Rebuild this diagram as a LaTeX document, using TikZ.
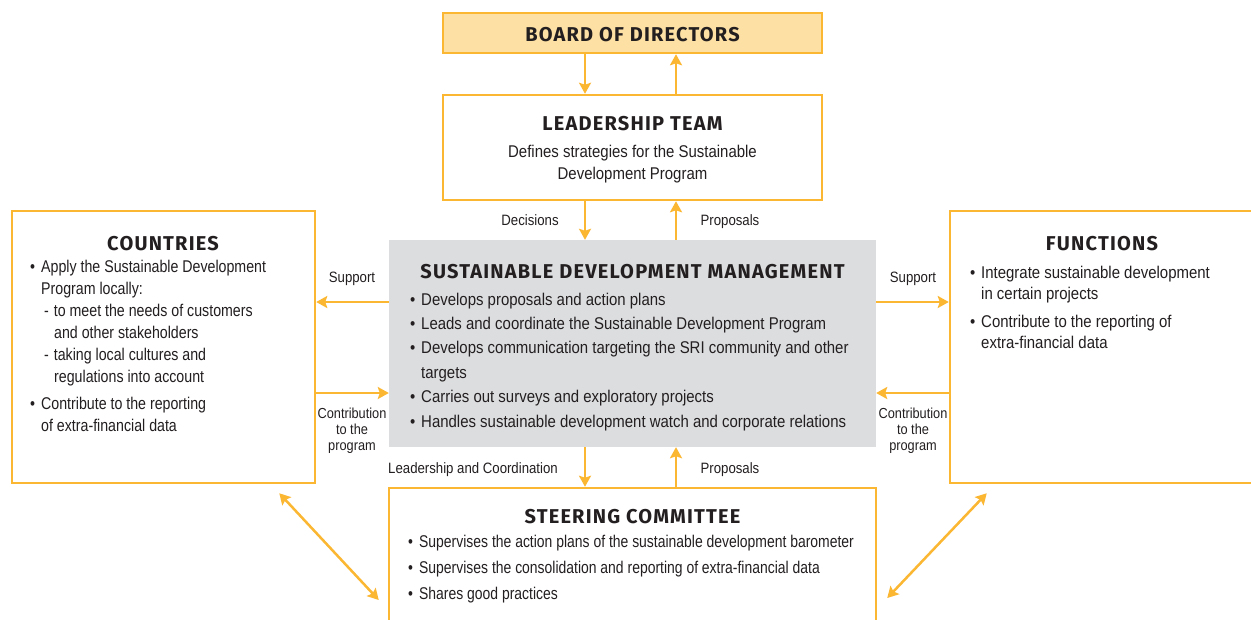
\documentclass[tikz,border=0pt]{standalone}
\usepackage{fontspec}
\setmainfont{Liberation Sans}[FakeStretch=0.88]
\newfontfamily\titlefont{Fira Sans}[LetterSpace=6]
\newfontfamily\narrowfont{Liberation Sans}[FakeStretch=0.82]
\newfontfamily\midfont{Liberation Sans}[FakeStretch=0.835]
\usetikzlibrary{arrows.meta}
\definecolor{sdorange}{HTML}{FBB731}
\definecolor{sdpale}{HTML}{FDE0A4}
\definecolor{sdgray}{HTML}{DCDDDF}
\definecolor{sdtext}{HTML}{231F20}
\newcommand\bul{\makebox[11pt][l]{\textbullet}}
\newcommand\ind{\hspace*{11pt}}

\begin{document}
\begin{tikzpicture}[x=1pt,y=-1pt,
	box/.style={draw=sdorange,line width=2.5pt,inner sep=0pt},
	arr/.style={draw=sdorange,line width=2.5pt,-{Stealth[length=11pt,width=12pt,inset=2pt]}},
	darr/.style={arr,{Stealth[length=11pt,width=12pt,inset=2pt]}-{Stealth[length=11pt,width=12pt,inset=2pt]}},
	title/.style={font=\titlefont\bfseries\fontsize{20}{22}\selectfont,text=sdtext,inner sep=0pt,anchor=base},
	body/.style={font=\fontsize{17}{22}\selectfont,text=sdtext,inner sep=0pt,align=left,anchor=north west},
	lbl/.style={font=\fontsize{15}{16}\selectfont,text=sdtext,inner sep=0pt,align=center,anchor=base}]
		\clip (0,0) rectangle (1251,619);
		\fill[white] (0,0) rectangle (1251,619);
		% boxes
		\node[box,fill=sdpale,minimum width=379pt,minimum height=40pt] (board) at (632.5,33) {};
		\node[box,minimum width=379pt,minimum height=105pt] (lead) at (632.5,147.5) {};
		\node[fill=sdgray,inner sep=0pt,minimum width=487pt,minimum height=207pt] (sdm) at (632.5,343.5) {};
		\node[box,minimum width=303pt,minimum height=272pt] (ctry) at (163.5,347) {};
		\node[box,minimum width=320pt,minimum height=272pt] (func) at (1110,347) {};
		\node[box,minimum width=487pt,minimum height=150pt] (steer) at (632.5,563) {};
		% arrows
		\coordinate (dn) at (585,0);
		\coordinate (up) at (676,0);
		\coordinate (sup) at (0,302);
		\coordinate (con) at (0,393);
		\draw[arr] (board.south -| dn) -- (lead.north -| dn);
		\draw[arr] (lead.north -| up) -- (board.south -| up);
		\draw[arr] (lead.south -| dn) -- (sdm.north -| dn);
		\draw[arr] (sdm.north -| up) -- (lead.south -| up);
		\draw[arr] (sdm.south -| dn) -- (steer.north -| dn);
		\draw[arr] (steer.north -| up) -- (sdm.south -| up);
		\draw[arr] (sdm.west |- sup) -- (ctry.east |- sup);
		\draw[arr] (ctry.east |- con) -- (sdm.west |- con);
		\draw[arr] (sdm.east |- sup) -- (func.west |- sup);
		\draw[arr] (func.west |- con) -- (sdm.east |- con);
		\draw[darr] ([shift={(-37,9)}]ctry.south east) -- ([shift={(-9,37)}]steer.west);
		\draw[darr] ([shift={(38,9)}]func.south west) -- ([shift={(10,35)}]steer.east);
		% labels
		\node[lbl] (ldec) at (530,225.5) {Decisions};
		\node[lbl] (lprop) at (730,225.5) {Proposals};
		\node[lbl] (lsupl) at (352,282.5) {Support};
		\node[lbl] (lsupr) at (913,282.5) {Support};
		\node[lbl,anchor=north,font=\fontsize{14.5}{16}\selectfont] (lconl) at (352,407.7) {Contribution\\to the\\program};
		\node[lbl,anchor=north,font=\fontsize{14.5}{16}\selectfont] (lconr) at (913,407.7) {Contribution\\to the\\program};
		\node[lbl] (llead) at (473,473.5) {Leadership and Coordination};
		\node[lbl] (lprop2) at (730,473.5) {Proposals};
		% titles
		\node[title] (board-t) at (632.5,41) {BOARD OF DIRECTORS};
		\node[title] (lead-t) at (632.5,130) {LEADERSHIP TEAM};
		\node[title] (sdm-t) at (632.5,278) {SUSTAINABLE DEVELOPMENT MANAGEMENT};
		\node[title] (ctry-t) at (163,250) {COUNTRIES};
		\node[title] (func-t) at (1102,250) {FUNCTIONS};
		\node[title] (steer-t) at (632.5,523) {STEERING COMMITTEE};
		% texts
		\node[body,align=center,anchor=north] (lead-b) at (632.5,144.8) {Defines strategies for the Sustainable\\Development Program};
		\node[body,font=\fontsize{17}{24.4}\selectfont] (sdm-b) at (410,292.5) {\bul Develops proposals and action plans\\
			\bul Leads and coordinate the Sustainable Development Program\\
			\bul Develops communication targeting the SRI community and other\\
			\ind targets\\
			\bul Carries out surveys and exploratory projects\\
			\bul Handles sustainable development watch and corporate relations};
		\node[body,font=\midfont\fontsize{17}{22}\selectfont] (ctry-b) at (30,259.5) {\bul Apply the Sustainable Development\\
			\ind Program locally:\\
			\hspace*{14pt}- \hspace*{1pt}to meet the needs of customers\\
			\hspace*{24pt}and other stakeholders\\
			\hspace*{14pt}- \hspace*{1pt}taking local cultures and\\
			\hspace*{24pt}regulations into account\\[5pt]
			\bul Contribute to the reporting\\
			\ind of extra-financial data};
		\node[body,font=\fontsize{17}{21.5}\selectfont] (func-b) at (970,265.5) {\bul Integrate sustainable development\\
			\ind in certain projects\\[6pt]
			\bul Contribute to the reporting of\\
			\ind extra-financial data};
		\node[body,font=\narrowfont\fontsize{17}{26}\selectfont] (steer-b) at (408,534.5) {\bul Supervises the action plans of the sustainable development barometer\\
			\bul Supervises the consolidation and reporting of extra-financial data\\
			\bul Shares good practices};
	\end{tikzpicture}
\end{document}
